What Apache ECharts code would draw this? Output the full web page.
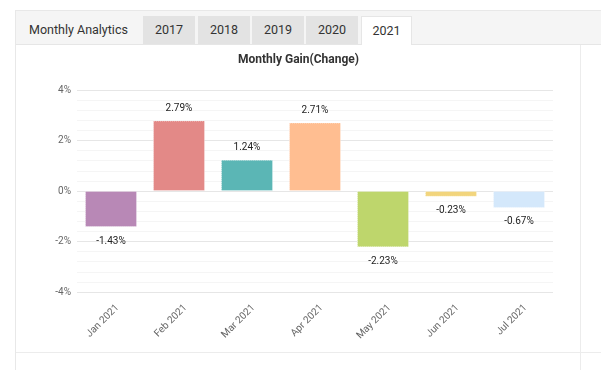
<!DOCTYPE html>
<html>
<head>
<meta charset="utf-8">
<script src="https://cdn.jsdelivr.net/npm/echarts@6/dist/echarts.min.js"></script>
<style>
  html, body { margin: 0; padding: 0; background: #fff; width: 601px; height: 370px; overflow: hidden; font-family: Roboto, "Liberation Sans", Arial, sans-serif; }
  .abs { position: absolute; box-sizing: border-box; }
  #panel { left: 15px; top: 10px; width: 586px; height: 360px; border-left: 1px solid #e8e8e8; border-top: 1px solid #e8e8e8; }
  #tabbar { left: 16px; top: 11px; width: 585px; height: 34px; background: #f5f5f5; border-bottom: 1px solid #e6e6e6; }
  #title-tab { left: 29px; top: 16px; height: 28px; line-height: 28px; font-size: 12.5px; color: #333; }
  .tab { top: 16px; height: 28px; line-height: 28px; font-size: 12.5px; color: #333; text-align: center; background: #e3e3e3; }
  .tab.active { background: #fff; border: 1px solid #e6e6e6; border-bottom: none; height: 29px; line-height: 27px; }
  #vline { left: 580px; top: 45px; width: 1px; height: 325px; background: #ececec; }
  #hline { left: 16px; top: 352px; width: 585px; height: 1px; background: #ececec; }
  #chart { left: 0; top: 0; width: 601px; height: 370px; }
</style>
</head>
<body>
<div id="panel" class="abs"></div>
<div id="tabbar" class="abs"></div>
<div id="title-tab" class="abs">Monthly Analytics</div>
<div class="abs tab" style="left:143px;width:52px;">2017</div>
<div class="abs tab" style="left:198px;width:52px;">2018</div>
<div class="abs tab" style="left:252px;width:52px;">2019</div>
<div class="abs tab" style="left:306px;width:52px;">2020</div>
<div class="abs tab active" style="left:361px;width:51px;">2021</div>
<div id="vline" class="abs"></div>
<div id="hline" class="abs"></div>
<div id="chart" class="abs"></div>
<script>
const chartTitle = 'Monthly Gain(Change)';
const categories = ['Jan 2021', 'Feb 2021', 'Mar 2021', 'Apr 2021', 'May 2021', 'Jun 2021', 'Jul 2021'];
const values = [-1.43, 2.79, 1.24, 2.71, -2.23, -0.23, -0.67];
const colors = ['#b888b6', '#e38987', '#5bb6b5', '#ffbe91', '#bed66c', '#f2d57d', '#d4e8fb'];
const yMin = -4;
const yMax = 4;
const yStep = 2;

const chart = echarts.init(document.getElementById('chart'), null, { renderer: 'canvas' });
const font = 'Roboto, "Liberation Sans", Arial, sans-serif';

chart.setOption({
  animation: false,
  backgroundColor: 'transparent',
  title: {
    text: chartTitle,
    left: 238,
    top: 54,
    padding: 0,
    textStyle: { fontSize: 12, fontWeight: 'bold', color: '#333', fontFamily: font }
  },
  grid: { left: 77, right: 48, top: 90, bottom: 78, containLabel: false },
  xAxis: {
    type: 'category',
    data: categories,
    axisLine: { show: false, onZero: false },
    axisTick: { show: false },
    splitLine: { show: false },
    axisLabel: {
      interval: 0,
      rotate: 45,
      margin: 8,
      verticalAlign: 'top',
      lineHeight: 12,
      padding: [3, 0, 0, 0],
      fontSize: 10,
      color: '#666',
      fontFamily: font
    }
  },
  yAxis: {
    type: 'value',
    min: yMin,
    max: yMax,
    interval: yStep,
    axisLine: { show: false },
    axisTick: { show: false },
    axisLabel: { formatter: '{value}%', fontSize: 10, color: '#666', margin: 6, fontFamily: font },
    splitLine: { show: true, lineStyle: { color: '#e6e6e6', width: 1 } },
    minorTick: { show: false, splitNumber: 5 },
    minorSplitLine: { show: true, lineStyle: { color: '#f5f5f5', width: 1 } }
  },
  series: [{
    type: 'bar',
    barWidth: 52,
    data: values.map((v, i) => ({
      value: v,
      itemStyle: { color: colors[i], borderColor: 'rgba(255,255,255,0.55)', borderWidth: 1, borderType: 'dotted' },
      label: { position: v >= 0 ? 'top' : 'bottom', distance: v >= 0 ? 7 : 9 }
    })),
    label: {
      show: true,
      formatter: p => p.value + '%',
      fontSize: 10,
      color: '#222',
      fontFamily: font
    }
  }]
});
</script>
</body>
</html>
